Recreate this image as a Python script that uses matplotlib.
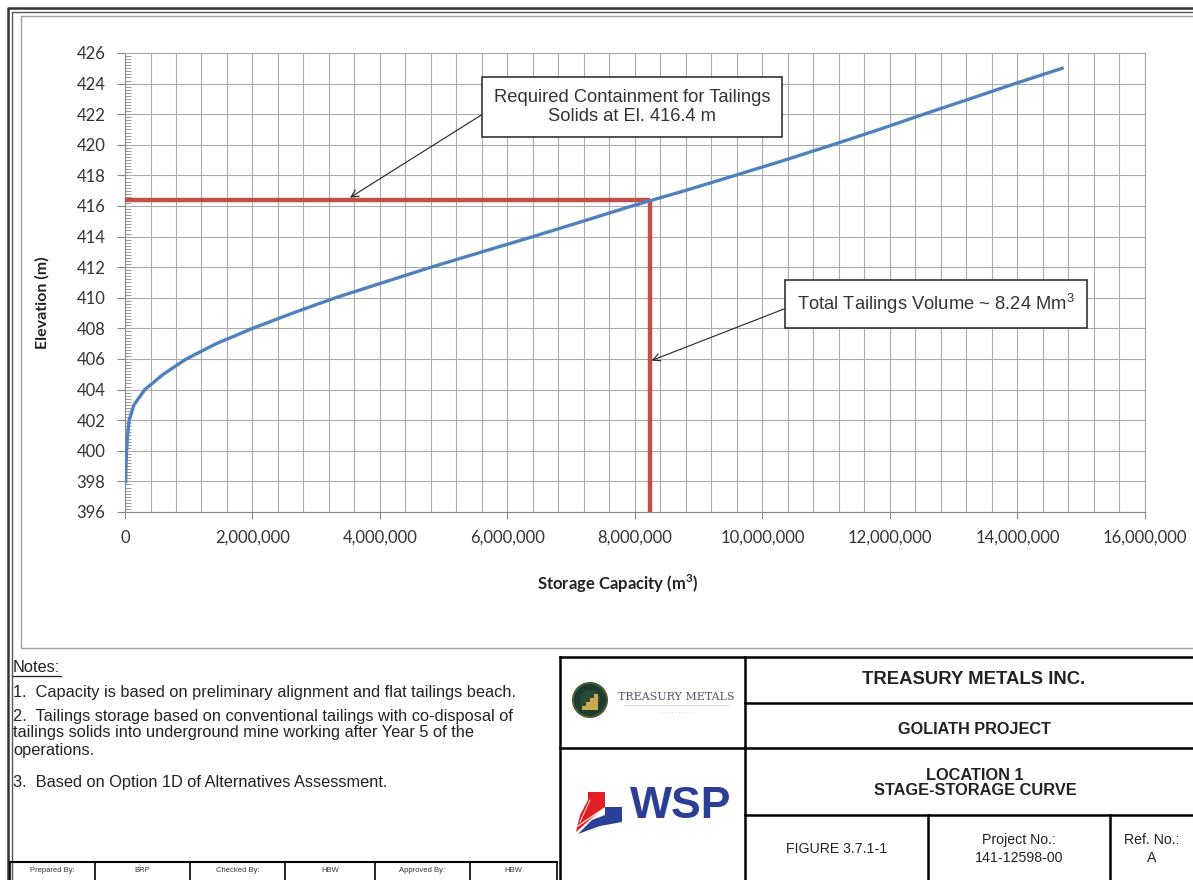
import numpy as np
import matplotlib.pyplot as plt
from matplotlib.patches import Rectangle, Polygon, Circle
from matplotlib.ticker import MultipleLocator, FuncFormatter

# stage-storage curve
elevation = [398, 399, 400, 401, 402, 403, 404, 405, 406, 407, 408, 409, 410,
             411, 412, 413, 414, 415, 416, 417, 418, 419, 420, 421, 422, 423,
             424, 425]
capacity = [10000, 15000, 25000, 40000, 65000, 140000, 310000, 600000,
            960000, 1430000, 2000000, 2630000, 3300000, 4050000, 4800000,
            5600000, 6400000, 7180000, 7950000, 8780000, 9570000, 10350000,
            11100000, 11830000, 12530000, 13250000, 13960000, 14700000]

solids_elev = 416.4
tailings_volume = 8240000

notes = [
    "1.  Capacity is based on preliminary alignment and flat tailings beach.",
    "2.  Tailings storage based on conventional tailings with co-disposal of",
    "tailings solids into underground mine working after Year 5 of the",
    "operations.",
    "3.  Based on Option 1D of Alternatives Assessment.",
]
sign_cells = ["Prepared By:", "BRP", "Checked By:", "HBW", "Approved By:", "HBW"]

W, H = 1193, 880
fig = plt.figure(figsize=(W / 100, H / 100), dpi=100)

# page layer in pixel coordinates
bg = fig.add_axes([0, 0, 1, 1])
bg.set_xlim(0, W)
bg.set_ylim(H, 0)
bg.axis("off")

arial = "Liberation Sans"
calibri = "Lato"
ink = "#222222"

# outer double border
bg.plot([8, 8, W], [H, 8, 8], color="#333333", lw=1.8)
bg.plot([12, 12, W], [H, 12, 12], color="#555555", lw=1.0)
# chart frame
bg.add_patch(Rectangle((21, 16), W - 21 + 5, 632, fill=False, ec="#A0A0A0", lw=1.0))

# notes
bg.text(13, 668, "Notes:", fontsize=11.8, family=arial, va="center", color=ink)
bg.plot([13, 61], [676, 676], color=ink, lw=0.9)
note_y = [692, 716, 733, 750, 782]
for t, y in zip(notes, note_y):
    bg.text(13, y, t, fontsize=11.8, family=arial, va="center", color=ink)

# signature row
cell_x = [10, 95, 190, 285, 375, 470, 557]
bg.plot([10, 557], [862, 862], color="black", lw=1.5)
for x in cell_x:
    bg.plot([x, x], [862, H], color="black", lw=1.2)
for i, t in enumerate(sign_cells):
    bg.text((cell_x[i] + cell_x[i + 1]) / 2, 871, t, fontsize=5.5,
            family=arial, ha="center", va="center", color="#333333")

# title block grid
lk = dict(color="black", lw=1.8)
bg.plot([560, W], [657, 657], **lk)
bg.plot([560, 560], [657, H], **lk)
bg.plot([745, 745], [657, H], **lk)
bg.plot([745, W], [703, 703], **lk)
bg.plot([560, W], [748, 748], **lk)
bg.plot([745, W], [815, 815], **lk)
bg.plot([928, 928], [815, H], **lk)
bg.plot([1110, 1110], [815, H], **lk)

bg.text(974, 680, "TREASURY METALS INC.", fontsize=13.3, fontweight="bold",
        family=arial, ha="center", va="center", color=ink)
bg.text(974, 729, "GOLIATH PROJECT", fontsize=11.7, fontweight="bold",
        family=arial, ha="center", va="center", color=ink)
bg.text(975, 783, "LOCATION 1\nSTAGE-STORAGE CURVE", fontsize=11.8,
        fontweight="bold", family=arial, ha="center", va="center",
        linespacing=1.05, color=ink)
bg.text(837, 849, "FIGURE 3.7.1-1", fontsize=10.2, family=arial,
        ha="center", va="center", color=ink)
bg.text(1019, 849, "Project No.:\n141-12598-00", fontsize=10.2, family=arial,
        ha="center", va="center", linespacing=1.35, color=ink)
bg.text(1152, 849, "Ref. No.:\nA", fontsize=10.2, family=arial,
        ha="center", va="center", linespacing=1.35, color=ink)

# Treasury Metals logo
bg.add_patch(Circle((590, 700), 17, fc="#1E3B2C", ec="#4A5A3A", lw=1.5))
bg.add_patch(Circle((590, 700), 10, fc="#2B4A36", ec="none"))
for k in range(4):
    bg.add_patch(Rectangle((582 + 4 * k, 706 - 4 * k), 3.5, 4 + 4 * k,
                           fc="#C9A94E", ec="none"))
bg.text(676, 697, "TREASURY METALS", fontsize=8, family="DejaVu Serif",
        ha="center", va="center", color="#555566")
bg.plot([624, 728], [705, 705], color="#CCCCCC", lw=0.6)
bg.text(676, 713, "· · · · · · · · ·", fontsize=4, ha="center", va="center",
        color="#999999")

# WSP logo
bg.add_patch(Polygon([[588, 792], [605, 792], [605, 807], [592, 818],
                      [576, 832], [580, 815], [588, 800]],
                     closed=True, fc="#E31E24", ec="none"))
bg.add_patch(Polygon([[605, 807], [622, 807], [622, 822], [600, 826],
                      [578, 834], [592, 820], [605, 815]],
                     closed=True, fc="#2A3F95", ec="none"))
bg.plot([578, 603], [826, 809], color="white", lw=0.8)
bg.plot([580, 590], [822, 800], color="white", lw=0.6)
bg.text(681, 807, "WSP", fontsize=32, fontweight="bold", family=arial,
        ha="center", va="center", color="#2A3F95")

# chart
ax = fig.add_axes([125 / W, 1 - 512 / H, (1145 - 125) / W, (512 - 53) / H])
ax.set_facecolor("white")

ax.plot([0, tailings_volume], [solids_elev, solids_elev], color="#C0504D",
        lw=3.2, solid_capstyle="butt", zorder=3)
ax.plot([tailings_volume, tailings_volume], [396, solids_elev], color="#C0504D",
        lw=3.2, solid_capstyle="butt", zorder=3)
ax.plot(capacity, elevation, color="#4F81BD", lw=2.4, zorder=4)

ax.set_xlim(0, 16000000)
ax.set_ylim(396, 426)
ax.xaxis.set_major_locator(MultipleLocator(2000000))
ax.xaxis.set_minor_locator(MultipleLocator(400000))
ax.yaxis.set_major_locator(MultipleLocator(2))
ax.yaxis.set_minor_locator(MultipleLocator(0.2))
ax.xaxis.set_major_formatter(FuncFormatter(lambda v, p: f"{v:,.0f}"))
ax.grid(which="major", color="#AAAAAA", lw=0.8)
ax.grid(which="minor", axis="x", color="#AAAAAA", lw=0.8)
ax.tick_params(axis="x", which="major", direction="out", length=5,
               color="#888888", labelsize=12, labelcolor="#333333", pad=8)
ax.tick_params(axis="x", which="minor", length=0)
ax.tick_params(axis="y", which="major", direction="out", length=6,
               color="#888888", labelsize=12, labelcolor="#333333", pad=8)
ax.tick_params(axis="y", which="minor", direction="in", length=4,
               color="#888888")
for lab in ax.get_xticklabels() + ax.get_yticklabels():
    lab.set_family(calibri)
for s in ax.spines.values():
    s.set_color("#AAAAAA")
    s.set_linewidth(0.8)
ax.spines["left"].set_color("#888888")
ax.spines["bottom"].set_color("#888888")

ax.set_ylabel("Elevation (m)", fontsize=11.5, fontweight="bold", family=calibri,
              color=ink)
ax.yaxis.set_label_coords(-0.074, 0.455)
ax.set_xlabel("Storage Capacity (m$^\\mathregular{3}$)", fontsize=12,
              fontweight="bold", family=calibri, color=ink)
ax.xaxis.set_label_coords(0.483, -0.133)

box = dict(boxstyle="square,pad=0.65", fc="white", ec="#333333", lw=1.2)
arr = dict(arrowstyle="->", color=ink, lw=0.8, shrinkA=0, shrinkB=0,
           relpos=(0, 0.5))
ax.annotate("Required Containment for Tailings\nSolids at El. 416.4 m",
            xy=(3530000, 416.55), xytext=(7950000, 422.45),
            fontsize=13.2, family=arial, color="#333333", ha="center",
            va="center", linespacing=1.15, bbox=box, arrowprops=arr, zorder=6)
ax.annotate("Total Tailings Volume ~ 8.24 Mm$^\\mathregular{3}$",
            xy=(tailings_volume + 20000, 405.9), xytext=(12720000, 409.6),
            fontsize=13.2, family=arial, color="#333333", ha="center",
            va="center", bbox=box, arrowprops=arr, zorder=6)

fig.savefig("out.png", dpi=100)
